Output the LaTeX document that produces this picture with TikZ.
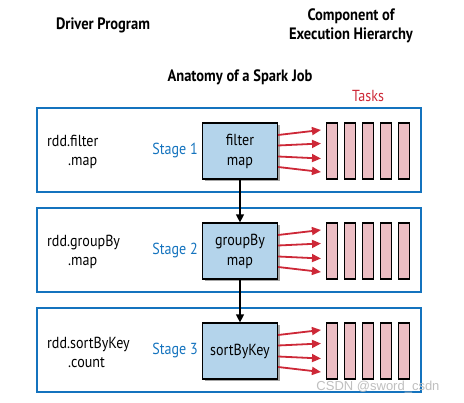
\documentclass[tikz,border=0pt]{standalone}
\usepackage{fontspec}
\setmainfont{PT Sans}[FakeStretch=0.88]
\newfontfamily\markfont{Liberation Sans}
\usetikzlibrary{arrows.meta,shadows}

\begin{document}
\begin{tikzpicture}[x=1pt, y=-1pt,
  stagebox/.style={draw=sparkblue, line width=1.6pt, minimum width=384pt, minimum height=84pt, inner sep=0pt},
  stagenode/.style={draw=black, line width=1.2pt, fill=stagefill, minimum width=75pt, minimum height=56pt,
    inner sep=0pt, align=center, font=\fontsize{16}{20}\selectfont,
    drop shadow={shadow xshift=2.5pt, shadow yshift=-2.5pt, opacity=0.35, fill=black}},
  tasknode/.style={draw=black, line width=1.1pt, fill=taskfill, minimum width=11pt, minimum height=56pt, inner sep=0pt},
  stagelabel/.style={text=sparkblue, font=\fontsize{16}{19}\selectfont},
  rddlabel/.style={anchor=west, inner sep=0pt, align=left, font=\fontsize{16}{19}\selectfont},
  title/.style={font=\fontsize{16.5}{19}\selectfont\bfseries, align=center},
  taskarrow/.style={draw=taskred, line width=1.8pt, -{Triangle[length=9pt, width=8pt]}},
  flowarrow/.style={draw=black, line width=1.3pt, -{Triangle[length=8pt, width=8pt]}}]

\definecolor{sparkblue}{RGB}{20, 115, 190}
\definecolor{stagefill}{RGB}{180, 212, 235}
\definecolor{taskfill}{RGB}{236, 190, 196}
\definecolor{taskred}{RGB}{205, 40, 55}

\useasboundingbox (0, 0) rectangle (464, 403);

% headings
\node[title] (driver) at (103, 25) {Driver Program};
\node[title] (component) at (351, 26) {Component of\\Execution Hierarchy};
\node[title] (anatomy) at (240, 77) {Anatomy of a Spark Job};
\node[text=taskred, font=\fontsize{16}{19}\selectfont] (tasks) at (368, 96) {Tasks};

% outer stage boxes
\node[stagebox] (box1) at (229, 150) {};
\node[stagebox] (box2) at (229, 250) {};
\node[stagebox] (box3) at (229, 350) {};

% driver code
\node[rddlabel] (code1) at (47, 152) {rdd.filter\\\hspace*{21pt}.map};
\node[rddlabel] (code2) at (47, 252) {rdd.groupBy\\\hspace*{21pt}.map};
\node[rddlabel] (code3) at (47, 352) {rdd.sortByKey\\\hspace*{21pt}.count};

% stages
\node[stagelabel] (lab1) at (175, 151) {Stage 1};
\node[stagelabel] (lab2) at (175, 251) {Stage 2};
\node[stagelabel] (lab3) at (175, 351) {Stage 3};

\node[stagenode] (s1) at (240, 151) {filter\\map};
\node[stagenode] (s2) at (240, 251) {groupBy\\map};
\node[stagenode] (s3) at (240, 351) {sortByKey};

\draw[flowarrow] (s1.south) -- (s2.north);
\draw[flowarrow] (s2.south) -- (s3.north);

% tasks
\foreach \s in {1, 2, 3} {
  \foreach \t in {1, ..., 5}
    \node[tasknode] (t\s\t) at (314 + 18*\t, 51 + 100*\s) {};
  \foreach \a/\b in {16/21, 5.5/7.5, -5.5/-7.5, -16/-21}
    \draw[taskarrow] ([yshift=\a pt]s\s.east) -- ([xshift=-5pt, yshift=\b pt]t\s1.west);
}

\node[text=black!25, font=\markfont\fontsize{13}{15}\selectfont] (mark) at (378, 387) {CSDN @sword\_csdn};

\end{tikzpicture}
\end{document}
